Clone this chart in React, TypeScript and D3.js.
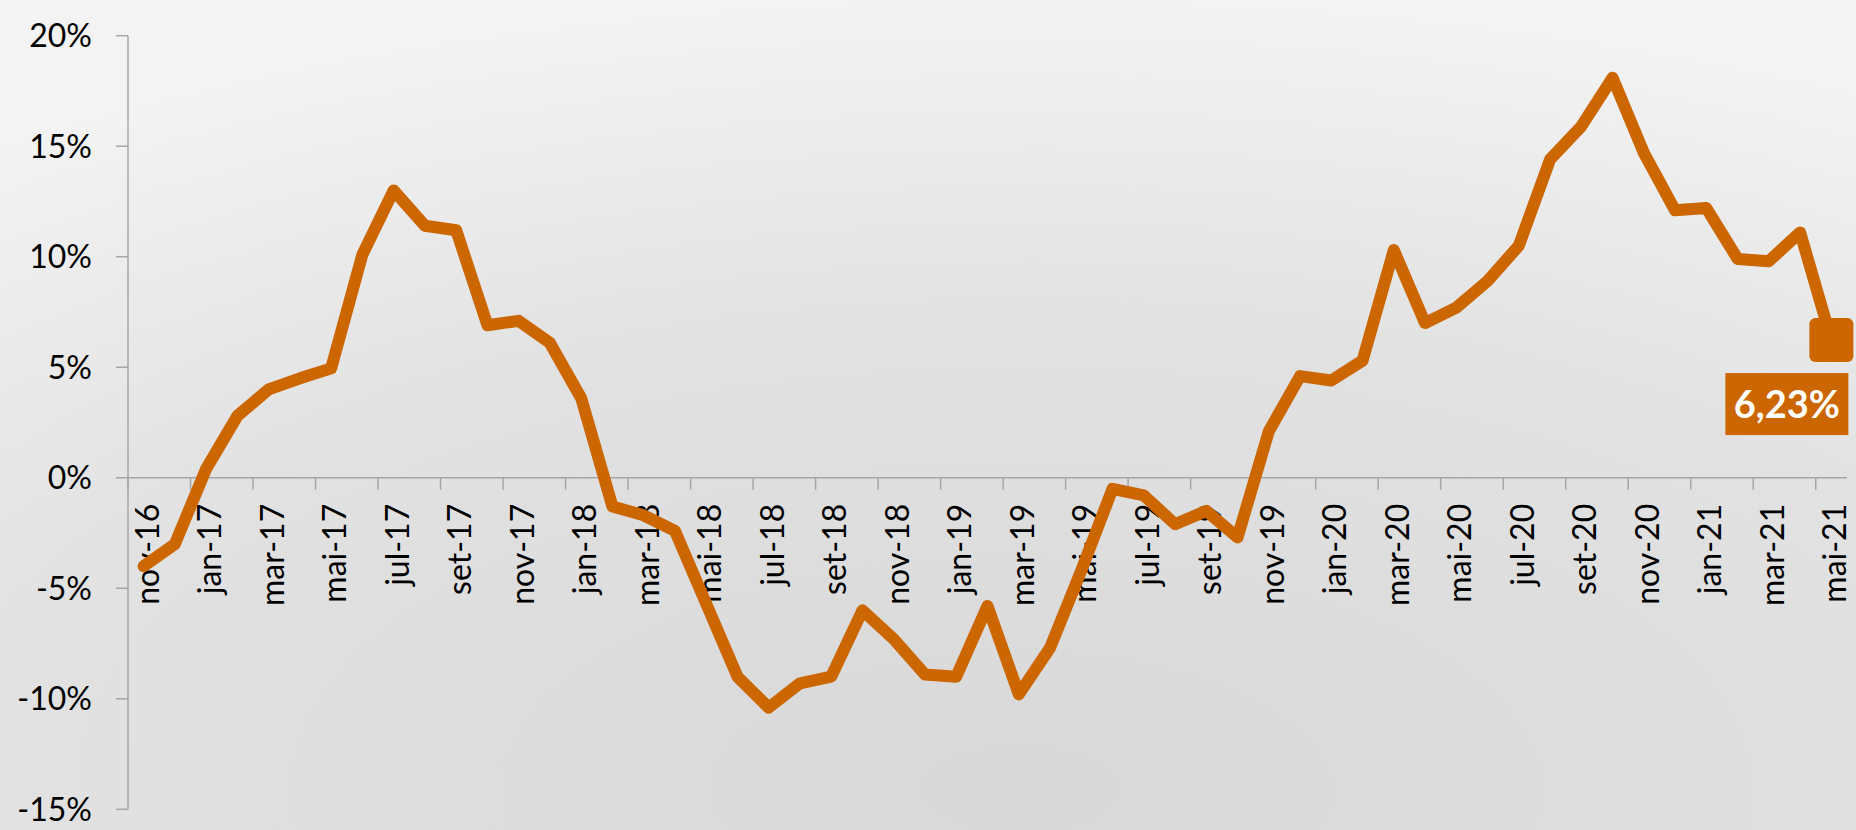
import React, { useEffect } from "react";
import * as d3 from "d3";

const months: string[] = [
  "nov-16","dez-16","jan-17","fev-17","mar-17","abr-17","mai-17","jun-17","jul-17","ago-17","set-17","out-17",
  "nov-17","dez-17","jan-18","fev-18","mar-18","abr-18","mai-18","jun-18","jul-18","ago-18","set-18","out-18",
  "nov-18","dez-18","jan-19","fev-19","mar-19","abr-19","mai-19","jun-19","jul-19","ago-19","set-19","out-19",
  "nov-19","dez-19","jan-20","fev-20","mar-20","abr-20","mai-20","jun-20","jul-20","ago-20","set-20","out-20",
  "nov-20","dez-20","jan-21","fev-21","mar-21","abr-21","mai-21",
];

const values: number[] = [
  -4.0, -3.0, 0.4, 2.8, 4.0, 4.5, 4.95, 10.1, 13.0, 11.4, 11.2, 6.9,
  7.1, 6.1, 3.6, -1.3, -1.7, -2.4, -5.7, -9.0, -10.4, -9.3, -9.0, -6.0,
  -7.3, -8.9, -9.0, -5.8, -9.8, -7.7, -4.2, -0.5, -0.8, -2.1, -1.5, -2.7,
  2.1, 4.6, 4.4, 5.3, 10.3, 7.0, 7.7, 8.9, 10.5, 14.4, 15.9, 18.1,
  14.7, 12.1, 12.2, 9.9, 9.8, 11.1, 6.23,
];

const yTicks: number[] = [-15, -10, -5, 0, 5, 10, 15, 20];
const lastLabel = "6,23%";

const W = 1856;
const H = 830;
const COLOR = "#CC6600";
const AXIS = "#a6a6a6";
const FONT = "Lato, 'Open Sans', sans-serif";

export default function App() {
  useEffect(() => {
    document.body.style.margin = "0";
  }, []);

  const x = d3.scaleBand<string>().domain(months).range([128, 1847]).padding(0);
  const y = d3.scaleLinear().domain([-15, 20]).range([809.3, 35.7]);
  const cx = (m: string) => (x(m) as number) + x.bandwidth() / 2;

  const line = d3
    .line<number>()
    .x((_, i) => cx(months[i]))
    .y((d) => y(d));

  const y0 = y(0);
  const lastI = months.length - 1;
  const lx = cx(months[lastI]);
  const ly = y(values[lastI]);
  const tickIdx = months.map((_, i) => i).filter((i) => i % 2 === 0);

  return (
    <svg width={W} height={H} style={{ position: "absolute", left: 0, top: 0, display: "block" }}>
      <defs>
        <radialGradient id="bg" cx="55%" cy="95%" r="95%" fx="55%" fy="95%">
          <stop offset="0%" stopColor="#d8d8d8" />
          <stop offset="60%" stopColor="#e2e2e2" />
          <stop offset="100%" stopColor="#f3f3f3" />
        </radialGradient>
      </defs>
      <rect x={0} y={0} width={W} height={H} fill="url(#bg)" />

      {/* y axis */}
      <line x1={128} x2={128} y1={y(20)} y2={y(-15)} stroke={AXIS} strokeWidth={1.5} />
      {yTicks.map((t) => (
        <g key={t}>
          <line x1={116} x2={128} y1={y(t)} y2={y(t)} stroke={AXIS} strokeWidth={1.5} />
          <text
            x={92}
            y={y(t)}
            dy="0.36em"
            textAnchor="end"
            fontFamily={FONT}
            fontSize={32}
            fill="#000"
          >
            {`${t}%`}
          </text>
        </g>
      ))}

      {/* x axis */}
      <line x1={128} x2={1847} y1={y0} y2={y0} stroke={AXIS} strokeWidth={1.5} />
      {tickIdx.map((i) => (
        <line
          key={`t${i}`}
          x1={x(months[i]) as number}
          x2={x(months[i]) as number}
          y1={y0}
          y2={y0 + 12}
          stroke={AXIS}
          strokeWidth={1.5}
        />
      ))}
      {tickIdx.map((i) => (
        <text
          key={`l${i}`}
          transform={`translate(${cx(months[i]) + 15},${y0 + 26}) rotate(-90)`}
          textAnchor="end"
          fontFamily={FONT}
          fontSize={32}
          fill="#000"
        >
          {months[i]}
        </text>
      ))}

      {/* series */}
      <path
        d={line(values) || ""}
        fill="none"
        stroke={COLOR}
        strokeWidth={12}
        strokeLinejoin="round"
        strokeLinecap="round"
      />
      <rect x={lx - 22} y={ly - 22} width={44} height={44} rx={6} fill={COLOR} />

      {/* data label */}
      <rect x={lx - 106} y={ly + 33} width={123} height={62} fill={COLOR} />
      <text
        x={lx - 44.5}
        y={ly + 64}
        dy="0.36em"
        textAnchor="middle"
        fontFamily={FONT}
        fontWeight="bold"
        fontSize={38}
        fill="#fff"
      >
        {lastLabel}
      </text>
    </svg>
  );
}
